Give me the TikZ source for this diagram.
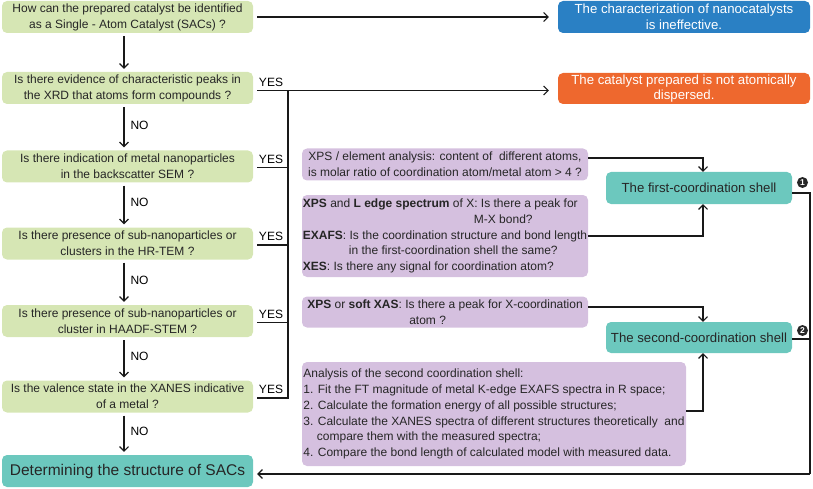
\documentclass[tikz,border=0pt]{standalone}
\usepackage{fontspec}
\setmainfont{Liberation Sans}
\usetikzlibrary{arrows.meta,calc}
\definecolor{gfill}{RGB}{214,230,180}
\definecolor{pfill}{RGB}{213,192,223}
\definecolor{tfill}{RGB}{108,200,190}
\definecolor{bfill}{RGB}{42,128,196}
\definecolor{ofill}{RGB}{238,104,46}
\tikzset{
  basebox/.style={rounded corners=5pt, inner sep=0pt, align=center, text=black!85},
  gbox/.style={basebox, fill=gfill, minimum width=251pt, minimum height=32pt, font=\fontsize{12}{16}\selectfont},
  pbox/.style={basebox, fill=pfill, font=\fontsize{12}{15.6}\selectfont},
  sbox/.style={basebox, fill=tfill, minimum width=186pt, minimum height=32pt, font=\fontsize{13.2}{16}\selectfont},
  rbox/.style={basebox, minimum width=252pt, minimum height=32pt, text=white, font=\fontsize{13.2}{15.7}\selectfont},
  lbl/.style={inner sep=0pt, font=\fontsize{12}{14}\selectfont},
  numc/.style={circle, fill=black!85, text=white, inner sep=0pt, minimum size=11pt, font=\bfseries\fontsize{8.5}{8.5}\selectfont},
  conn/.style={draw=black!90, line width=1.2pt},
  arr/.style={conn, -{Straight Barb[length=4.5pt,width=9pt,line width=1.1pt]}},
}
\begin{document}
\begin{tikzpicture}[x=1pt,y=-1pt]
\useasboundingbox (0,0) rectangle (813,489);
% left column
\node[gbox] (g1) at (127.5,17) {How can the prepared catalyst be identified\\as a Single - Atom Catalyst (SACs) ?};
\node[gbox] (g2) at (127.5,88) {Is there evidence of characteristic peaks in\\the XRD that atoms form compounds ?};
\node[gbox] (g3) at (127.5,166.5) {Is there indication of metal nanoparticles\\in the backscatter SEM ?};
\node[gbox] (g4) at (127.5,243.5) {Is there presence of sub-nanoparticles or\\clusters in the HR-TEM ?};
\node[gbox] (g5) at (127.5,321) {Is there presence of sub-nanoparticles or\\cluster in HAADF-STEM ?};
\node[gbox] (g6) at (127.5,396.5) {Is the valence state in the XANES indicative\\of a metal ?};
\node[gbox, fill=tfill, font=\fontsize{15.5}{18}\selectfont] (det) at (127.5,471) {Determining the structure of SACs};
% right result boxes
\node[rbox, fill=bfill] (blue) at (684,17) {The characterization of nanocatalysts\\is ineffective.};
\node[rbox, fill=ofill, minimum height=31pt] (orange) at (684,88.5) {The catalyst prepared is not atomically\\dispersed.};
% purple boxes
\node[pbox, minimum width=286pt, minimum height=32pt] (p1) at (445,164.5) {XPS / element analysis: content of \ different atoms,\\is molar ratio of coordination atom/metal atom > 4 ?};
\node[pbox, minimum width=286pt, minimum height=82pt, align=left] (p2) at (445,236) {\textbf{XPS} and \textbf{L edge spectrum} of X: Is there a peak for\\\hspace*{171pt}M-X bond?\\\textbf{EXAFS}: Is the coordination structure and bond length\\\hspace*{46pt}in the first-coordination shell the same?\\\textbf{XES}: Is there any signal for coordination atom?};
\node[pbox, minimum width=286pt, minimum height=31pt, align=left] (p3) at (445,312) {\textbf{XPS} or \textbf{soft XAS}: Is there a peak for X-coordination\\\hspace*{102pt}atom ?};
\node[pbox, minimum width=384pt, minimum height=104pt, align=left, font=\fontsize{12}{15.8}\selectfont] (p4) at (494,414) {Analysis of the second coordination shell:\\1. Fit the FT magnitude of metal K-edge EXAFS spectra in R space;\\2. Calculate the formation energy of all possible structures;\\3. Calculate the XANES spectra of different structures theoretically \ and\\\hspace*{13.5pt}compare them with the measured spectra;\\4. Compare the bond length of calculated model with measured data.};
% shells
\node[sbox] (s1) at (699,188) {The first-coordination shell};
\node[sbox, minimum height=31pt] (s2) at (699,337.5) {The second-coordination shell};
\node[numc] (n1) at (802.5,182.5) {1};
\node[numc] (n2) at (802.5,330.5) {2};
% NO arrows
\foreach \a/\b in {g1/g2,g2/g3,g3/g4,g4/g5,g5/g6,g6/det}{
  \draw[arr, shorten <=3pt, shorten >=3pt] ([xshift=-3.5pt]\a.south) -- ([xshift=-3.5pt]\b.north);
}
\foreach \a/\b in {g2/g3,g3/g4,g4/g5,g5/g6,g6/det}{
  \node[lbl] at ($([xshift=12pt]\a.south)!0.45!([xshift=12pt]\b.north)$) {NO};
}
% top arrow
\draw[arr, shorten <=4pt, shorten >=9pt] (g1.east) -- (blue.west);
% YES lines
\coordinate (bt) at (288,90.5);
\coordinate (bb) at (288,398);
\draw[arr, shorten >=9pt] (257,90.5) -- (bt) -- (bt -| orange.west);
\draw[conn] (257,398) -- (bb) -- (bt);
\draw[conn] (257,167.5) -- (288,167.5);
\draw[conn] (257,245) -- (288,245);
\draw[conn] (257,322.5) -- (288,322.5);
\foreach \y in {90.5,167.5,245,322.5,398}{
  \node[lbl] at (271,\y-8.5) {YES};
}
% purple to shells
\draw[arr] ([yshift=6.5pt]p1.east) -| ([xshift=4pt]s1.north);
\draw[arr] (p2.east) -| ([xshift=4pt]s1.south);
\draw[arr] ([yshift=5pt]p3.east) -| ([xshift=4pt]s2.north);
\draw[arr] ([yshift=3pt]p4.east) -| ([xshift=4pt]s2.south);
% shells to result
\coordinate (c1) at (810,193);
\coordinate (c2) at (810,474);
\draw[conn] ([yshift=-5pt]s1.east) -- (c1) -- (c2);
\draw[conn] ([yshift=-1.5pt]s2.east) -- (810,339);
\draw[arr, shorten >=4pt] (c2) -- (c2 -| det.east);
\end{tikzpicture}
\end{document}
